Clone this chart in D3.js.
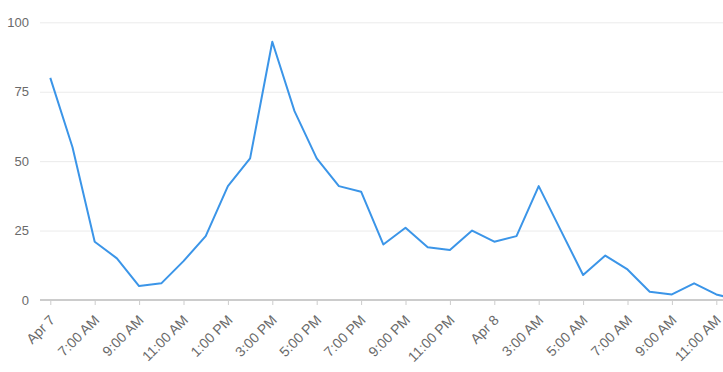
<!DOCTYPE html>
<html>
<head>
<meta charset="utf-8">
<script src="https://cdn.jsdelivr.net/npm/d3@7"></script>
<style>
  body { margin: 0; background: white; }
  svg { display: block; font-family: Arial, "Liberation Sans", sans-serif; }
</style>
</head>
<body>
<div class="plot"></div>
<script>
// Data: hourly values from Apr 7 5:00 AM
var startTime = new Date(2020, 3, 7, 5);
var values = [80, 55, 21, 15, 5, 6, 14, 23, 41, 51, 93, 68, 51, 41, 39, 20,
              26, 19, 18, 25, 21, 23, 41, 25, 9, 16, 11, 3, 2, 6, 2, 0];
var yTicks = [0, 25, 50, 75, 100];
var xTickLabels = ["Apr 7", "7:00 AM", "9:00 AM", "11:00 AM", "1:00 PM", "3:00 PM",
                   "5:00 PM", "7:00 PM", "9:00 PM", "11:00 PM", "Apr 8", "3:00 AM",
                   "5:00 AM", "7:00 AM", "9:00 AM", "11:00 AM"];

var outerWidth = 723,
    outerHeight = 372,
    gridLeft = 40;

var data = values.map(function (v, i) {
    return {date: d3.timeHour.offset(startTime, i), value: v};
});
var tickDates = xTickLabels.map(function (d, i) {
    return d3.timeHour.offset(startTime, i * 2);
});

var svg = d3.select(".plot")
    .append("svg")
    .attr("width", outerWidth)
    .attr("height", outerHeight);

// Scales
var xScale = d3.scaleTime()
    .domain([startTime, d3.timeHour.offset(startTime, 30)])
    .range([50.3, 716.3]);
var yScale = d3.scaleLinear().domain([0, 100]).range([300, 22.3]);

// Gridlines + y labels
var yAxis = svg.append("g")
    .attr("class", "y axis")
    .attr("transform", "translate(" + gridLeft + ",0)")
    .call(d3.axisLeft(yScale).tickValues(yTicks)
        .tickSize(-(outerWidth - gridLeft)).tickPadding(11));
yAxis.select(".domain").remove();
yAxis.selectAll(".tick line")
    .attr("stroke", d => d === 0 ? "none" : "#ebebeb");
yAxis.selectAll(".tick text")
    .attr("fill", "#6a6a6a")
    .style("font-size", "13px")
    .style("font-family", "Arial, 'Liberation Sans', sans-serif");

// x axis
var xAxis = svg.append("g")
    .attr("class", "x axis")
    .attr("transform", "translate(0," + yScale(0) + ")")
    .call(d3.axisBottom(xScale).tickValues(tickDates)
        .tickFormat((d, i) => xTickLabels[i]).tickSize(5).tickSizeOuter(0));
xAxis.select(".domain")
    .attr("d", "M" + gridLeft + ",0H" + outerWidth)
    .attr("stroke", "#cccccc")
    .attr("stroke-width", 2);
xAxis.selectAll(".tick line").attr("stroke", "#cccccc");
xAxis.selectAll(".tick text")
    .attr("fill", "#6a6a6a")
    .style("font-size", "14px")
    .style("font-family", "Arial, 'Liberation Sans', sans-serif")
    .attr("text-anchor", "end")
    .attr("dy", null)
    .attr("y", 0)
    .attr("transform", "translate(5,21) rotate(-45)");

// Line
var line = d3.line()
    .x(d => xScale(d.date))
    .y(d => yScale(d.value));

svg.append("path")
    .datum(data)
    .attr("fill", "none")
    .attr("stroke", "#3b95e8")
    .attr("stroke-width", 2)
    .attr("stroke-linejoin", "round")
    .attr("d", line);
</script>
</body>
</html>
